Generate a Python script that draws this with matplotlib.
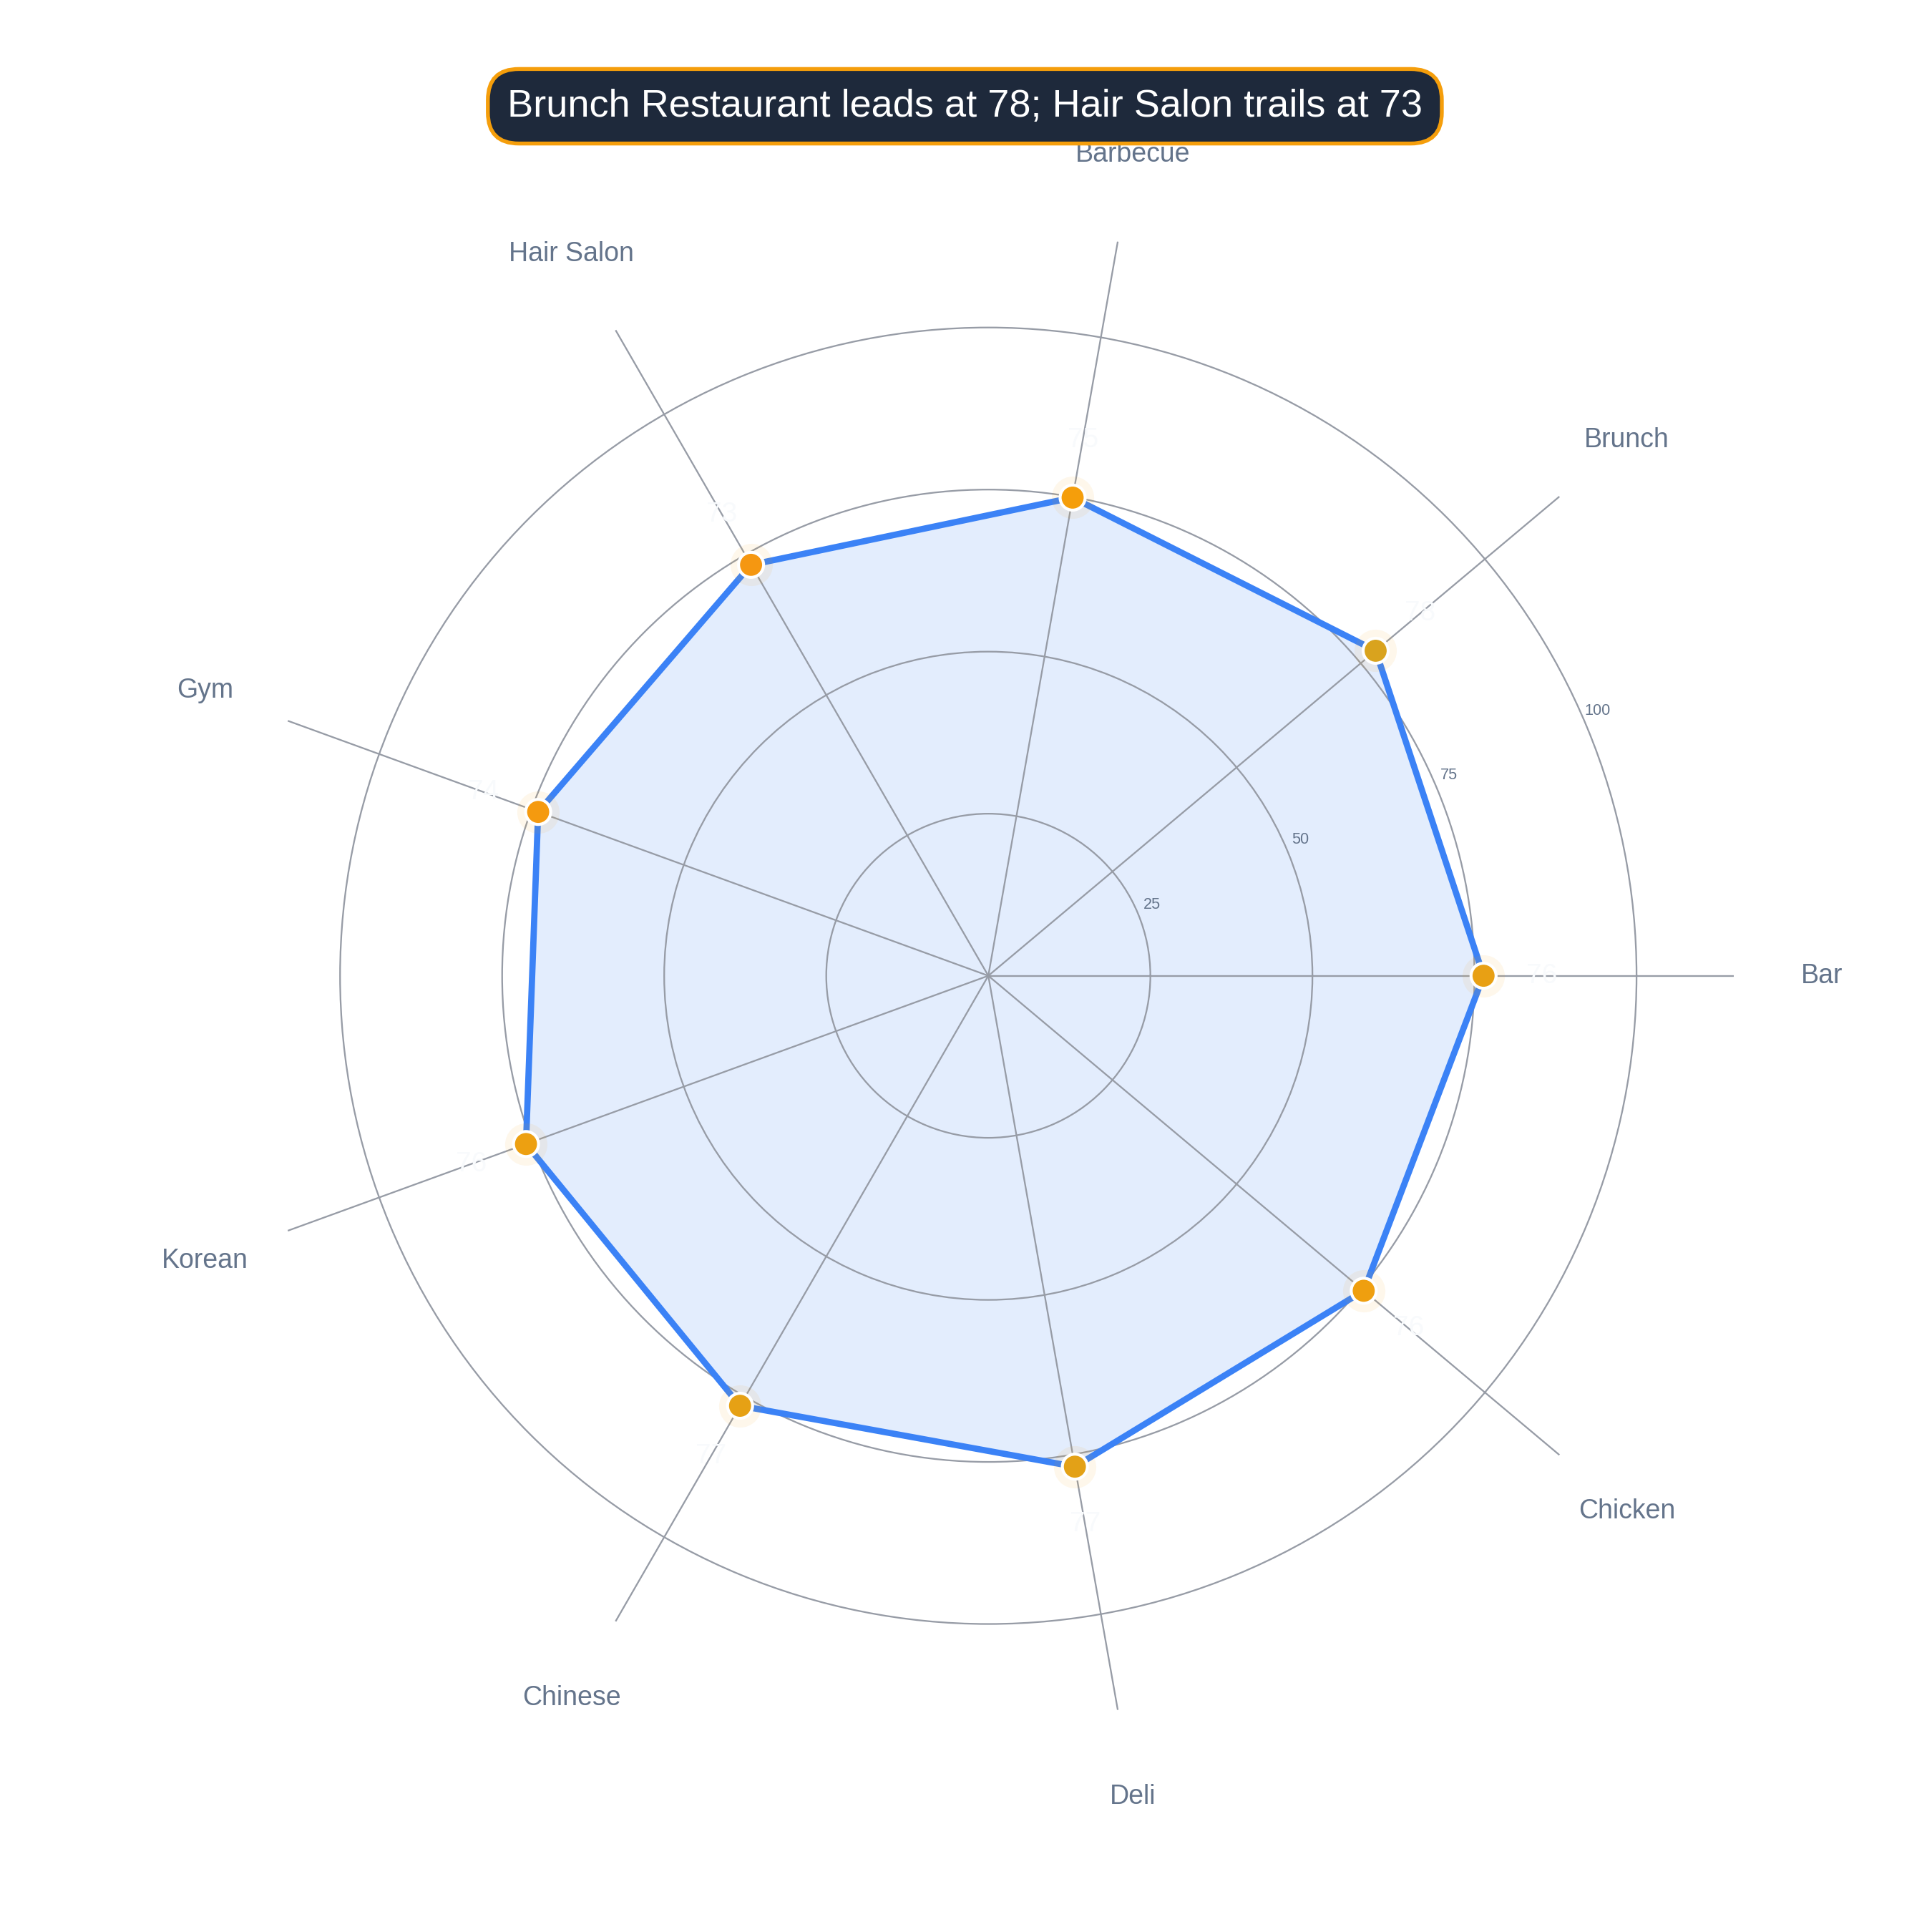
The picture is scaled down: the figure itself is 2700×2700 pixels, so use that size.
import numpy as np
import matplotlib
matplotlib.use("Agg")
import matplotlib.pyplot as plt
from matplotlib.colors import LinearSegmentedColormap, Normalize

plt.rcParams['font.family'] = ['Liberation Sans', 'DejaVu Sans']

# ---- data ----
categories = ["Bar", "Brunch", "Barbecue", "Hair Salon", "Gym",
              "Korean", "Chinese", "Deli", "Chicken"]
values = [76.4, 78.0, 74.9, 73.2, 73.9, 75.9, 76.6, 76.9, 75.6]
radial_ticks = [25, 50, 75, 100]
title_text = "Brunch Restaurant leads at 78; Hair Salon trails at 73"

# ---- styling ----
LINE = "#3b82f6"
GRID = "#979ca6"
LABEL = "#64748b"
ORANGE = "#f59e0b"
cmap = LinearSegmentedColormap.from_list(
    "mk", [(0.0, "#f59612"), (0.4, "#f59e0b"), (1.0, "#d9a31e")])
norm = Normalize(vmin=73, vmax=78)

fig = plt.figure(figsize=(9, 9), dpi=300)
ax = fig.add_axes([0.1257, 0.1091, 0.7717, 0.7717], projection="polar")

n = len(categories)
theta = np.deg2rad(np.arange(n) * 360.0 / n)
vals = np.array(values)
theta_c = np.append(theta, theta[0])
vals_c = np.append(vals, vals[0])

ax.set_ylim(0, 115)
ax.set_xticks(theta)
ax.set_xticklabels([])
ax.set_yticks(radial_ticks)
ax.set_yticklabels([])
ax.tick_params(length=0)
ax.grid(True, color=GRID, linewidth=0.55)
ax.spines["polar"].set_visible(False)
ax.set_facecolor("white")

# fill + line
ax.fill(theta_c, vals_c, color=LINE, alpha=0.14, linewidth=0, zorder=1)
ax.plot(theta_c, vals_c, color=LINE, linewidth=2.1, zorder=3,
        solid_joinstyle="round")

# halo + markers
colors = [cmap(norm(v)) for v in values]
ax.scatter(theta, vals, s=14.2 ** 2, color=ORANGE, alpha=0.08,
           linewidths=0, zorder=4)
ax.scatter(theta, vals, s=8.4 ** 2, c=colors, edgecolors="white",
           linewidths=1.0, zorder=5)

# data labels (near-white)
for t, v in zip(theta, values):
    ax.text(t, v + 9, f"{v:.0f}", color="#f8fafc", fontsize=9.3,
            ha="center", va="center", zorder=6)

# category labels
for t, c in zip(theta, categories):
    ax.text(t, 128.6, c, color=LABEL, fontsize=9.0, ha="center",
            va="center", clip_on=False)

# radial tick labels
for r in radial_ticks:
    ax.text(np.deg2rad(23.5), r + 2.5, f"{r}", color=LABEL, fontsize=5.2,
            ha="center", va="center")

# title
fig.text(0.4994, 0.945, title_text, color="white", fontsize=13,
         ha="center", va="center",
         bbox=dict(boxstyle="round,pad=0.5,rounding_size=0.8",
                   facecolor="#1e293b", edgecolor=ORANGE, linewidth=1.3))

fig.savefig("out.png", dpi=300, facecolor="white")
